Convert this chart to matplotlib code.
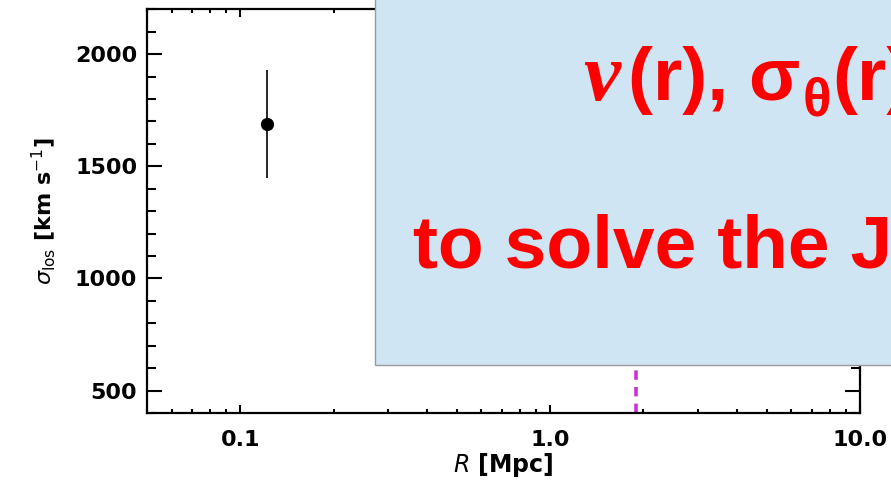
import matplotlib
matplotlib.use("Agg")
import matplotlib.pyplot as plt
from matplotlib.patches import Rectangle
from matplotlib.ticker import FixedLocator, LogLocator, MultipleLocator, NullFormatter

# Velocity dispersion measurement
radius = [0.122]
sigma_los = [1690]
sigma_err = [240]

# Characteristic radius (dashed marker)
r_mark = 1.89

x_ticks = [0.1, 1.0, 10.0]
x_ticklabels = ["0.1", "1.0", "10.0"]
y_ticks = [500, 1000, 1500, 2000]

fig = plt.figure(figsize=(8.91, 4.86), dpi=100)
ax = fig.add_axes([0.165, 0.150, 0.800, 0.831])

ax.errorbar(radius, sigma_los, yerr=sigma_err, fmt="o", color="black",
            ms=8.5, elinewidth=1.2, capsize=0)
ax.axvline(r_mark, color="#cc33cc", lw=2.6, ls=(0, (2.6, 2.0)))

ax.set_xscale("log")
ax.set_xlim(0.05, 10)
ax.set_ylim(400, 2200)

ax.xaxis.set_major_locator(FixedLocator(x_ticks))
ax.set_xticklabels(x_ticklabels)
ax.xaxis.set_minor_locator(LogLocator(base=10, subs=range(2, 10)))
ax.xaxis.set_minor_formatter(NullFormatter())
ax.yaxis.set_major_locator(FixedLocator(y_ticks))
ax.yaxis.set_minor_locator(MultipleLocator(100))

for lbl in ax.get_xticklabels() + ax.get_yticklabels():
    lbl.set_fontfamily("DejaVu Sans")
    lbl.set_fontweight("bold")
    lbl.set_fontsize(16)

ax.tick_params(axis="both", which="both", direction="in", top=True, right=True,
               width=1.5, color="black")
ax.tick_params(axis="y", which="major", length=11, pad=7)
ax.tick_params(axis="y", which="minor", length=6.5)
ax.tick_params(axis="x", which="major", length=6, pad=12)
ax.tick_params(axis="x", which="minor", length=3)
for sp in ax.spines.values():
    sp.set_linewidth(1.6)

lab_font = dict(family="DejaVu Sans", weight="bold", size=17)
ax.set_xlabel(r"$R$ [Mpc]", fontdict=lab_font, labelpad=1)
ax.set_ylabel(r"$\sigma_{\rm los}$ [km s$^{-1}$]", fontdict=dict(lab_font, size=16),
              labelpad=12)

# Overlay panel
W, H = fig.get_size_inches() * fig.dpi
fig.patches.append(Rectangle((375 / W, 1 - 365 / H), 1.0, 1.0,
                             transform=fig.transFigure, facecolor="#cfe5f3",
                             edgecolor="#999999", lw=1.0, zorder=5))

red = "#ff0000"
sans = dict(family="Liberation Sans", weight="bold", color=red, zorder=6)
renderer = fig.canvas.get_renderer()


def put(x_px, y_px, s, **kw):
    t = fig.text(x_px / W, 1 - y_px / H, s, va="baseline", ha="left", **kw)
    return x_px + t.get_window_extent(renderer).width


x = 583
x = put(x, 100, "\u03bd", family="Liberation Serif", style="italic",
        weight="bold", color=red, size=60, zorder=6)
x = put(x + 8, 100, "(r), \u03c3", size=54, **sans)
x = put(x + 2, 116, "\u03b8", size=38, **sans)
x = put(x + 1, 100, "(r)", size=54, **sans)

put(413, 268, "to solve the J", size=54, **sans)

fig.savefig("out.png", dpi=100)
